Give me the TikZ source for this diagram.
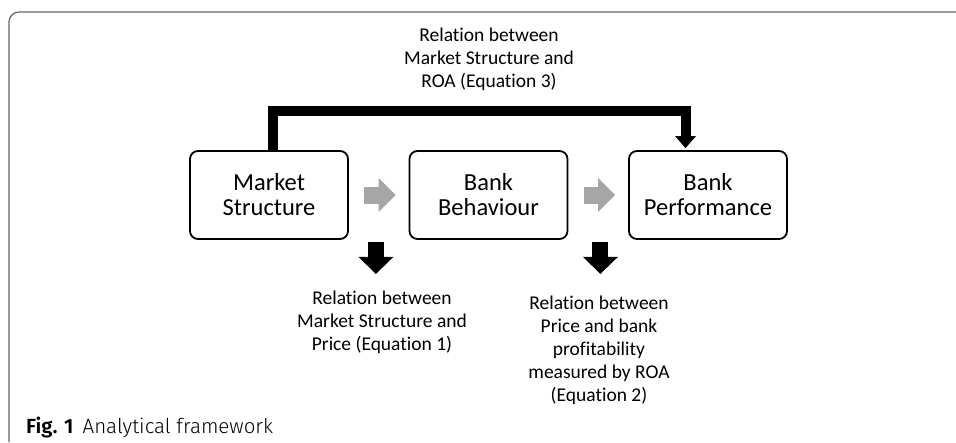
\documentclass[tikz,border=0pt]{standalone}
\usepackage{fontspec}
\setmainfont{Carlito}[Ligatures=NoCommon]
\newfontfamily\capfont{Fira Sans}[UprightFont=* Light, BoldFont=* SemiBold]
\usetikzlibrary{arrows.meta}
\begin{document}
\begin{tikzpicture}[x=1pt,y=-1pt,
  box/.style={draw, line width=1.8pt, rounded corners=8pt, minimum width=158pt, minimum height=88pt, align=center, inner sep=0pt, font=\fontsize{24.5}{25}\selectfont},
  lbl/.style={align=center, inner sep=0pt, font=\fontsize{19.5}{23}\selectfont},
  grayarrow/.style={draw=black!35, line width=17pt, -{Triangle[length=17pt,width=34pt,fill=black!35,line width=0pt]}},
  downarrow/.style={draw=black, line width=16pt, -{Triangle[length=17pt,width=35pt,line width=0pt]}},
  bracket/.style={draw=black, line width=10pt, line join=miter, -{Triangle[length=12pt,width=21pt,line width=0pt]}}
]
\useasboundingbox (0,0) rectangle (956,442);
\draw[black!60, line width=1.2pt, rounded corners=10pt] (9,442) -- (9,12) -- (956,12);

\node[box] (ms) at (269,195) {Market\\Structure};
\node[box] (bb) at (488.5,195) {Bank\\Behaviour};
\node[box] (bp) at (708,195) {Bank\\Performance};

\draw[grayarrow] ([xshift=15pt]ms.east) -- ([xshift=-13pt]bb.west);
\draw[grayarrow] ([xshift=16pt]bb.east) -- ([xshift=-13pt]bp.west);

\coordinate (d1s) at ([xshift=27pt,yshift=-2pt]ms.south east);
\coordinate (d1e) at ([xshift=27pt,yshift=-34pt]ms.south east);
\coordinate (d2s) at ([xshift=32pt,yshift=-2pt]bb.south east);
\coordinate (d2e) at ([xshift=32pt,yshift=-34pt]bb.south east);
\draw[downarrow] (d1s) -- (d1e);
\draw[downarrow] (d2s) -- (d2e);

\draw[bracket] ([xshift=4pt]ms.north) |- ([xshift=-22.5pt,yshift=39pt]bp.north) -- ([xshift=-22.5pt,yshift=2pt]bp.north);

\node[lbl] (top) at (489,59) {Relation between\\Market Structure and\\ROA (Equation 3)};
\node[lbl] (l1) at (382,322) {Relation between\\Market Structure and\\Price (Equation 1)};
\node[lbl] (l2) at (599,350) {Relation between\\Price and bank\\profitability\\measured by ROA\\(Equation 2)};

\node[anchor=base west, inner sep=0pt, font=\capfont\fontsize{20.5}{22}\selectfont] (cap) at (26,433) {\textbf{Fig. 1}\hspace{0.45em}Analytical framework};
\end{tikzpicture}
\end{document}
